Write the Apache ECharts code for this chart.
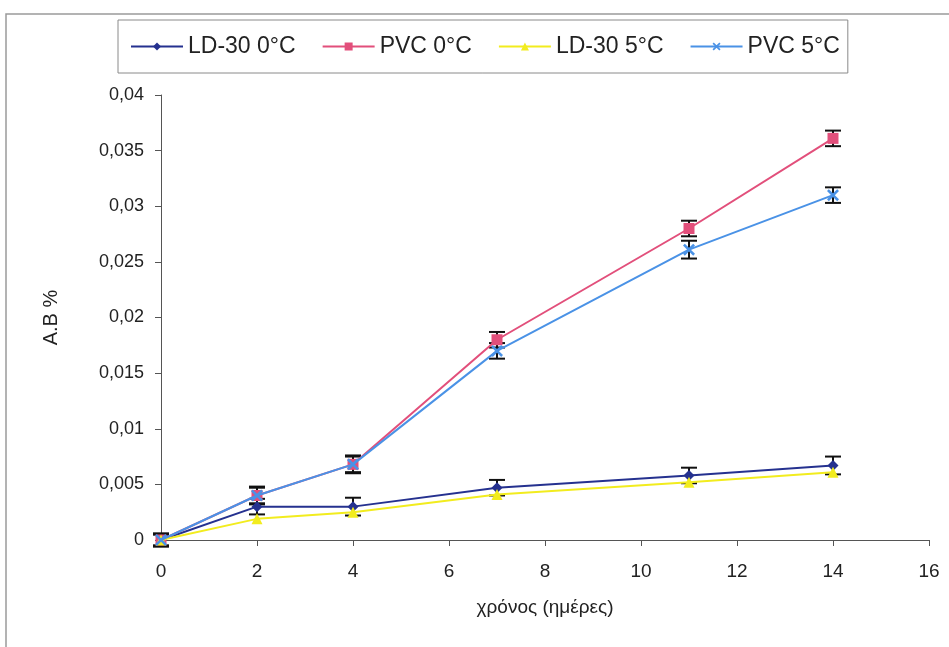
<!DOCTYPE html>
<html><head><meta charset="utf-8">
<script src="https://cdn.jsdelivr.net/npm/echarts@6/dist/echarts.min.js"></script>
<style>html,body{margin:0;padding:0;background:#fff}#c{width:949px;height:647px}</style>
</head><body><div id="c"></div>
<script>
const days = [0, 2, 4, 7, 11, 14];
const seriesNames = ['LD-30 0°C', 'PVC 0°C', 'LD-30 5°C', 'PVC 5°C'];
const ld30_0 = [0, 0.0030, 0.0030, 0.0047, 0.0058, 0.0067];
const pvc_0 = [0, 0.0040, 0.0068, 0.0180, 0.0280, 0.0361];
const ld30_5 = [0, 0.0019, 0.0025, 0.0041, 0.0052, 0.0061];
const pvc_5 = [0, 0.0040, 0.0068, 0.0170, 0.0261, 0.0310];
const err_ld30_0 = [0.0006, 0.0007, 0.0008, 0.0007, 0.0007, 0.0008];
const err_pvc_0 = [0.0005, 0.0008, 0.0008, 0.0007, 0.0007, 0.0007];
const err_pvc_5 = [0.0005, 0.0007, 0.0007, 0.0007, 0.0008, 0.0007];
const yTicks = ['0', '0,005', '0,01', '0,015', '0,02', '0,025', '0,03', '0,035', '0,04'];

const colors = ['#25318f', '#e24f7b', '#f2ec1e', '#4a92e6'];
const xPath = 'path://M0,1.5 L1.5,0 L5,3.5 L8.5,0 L10,1.5 L6.5,5 L10,8.5 L8.5,10 L5,6.5 L1.5,10 L0,8.5 L3.5,5 Z';
const symbols = ['diamond', 'rect', 'triangle', xPath];
const symSizes = [11, 11, 11, 12];
const vals = [ld30_0, pvc_0, ld30_5, pvc_5];

function pairs(v){ return days.map((d,i)=>[d, v[i]]); }
function errSeries(v, e, z){
  return {
    type: 'custom', z: z, silent: true,
    data: days.map((d,i)=>[d, v[i]-e[i], v[i]+e[i]]),
    renderItem: function(params, api){
      const x = api.value(0);
      const lo = api.coord([x, api.value(1)]);
      const hi = api.coord([x, api.value(2)]);
      const w = 8;
      const st = {stroke:'#111', lineWidth:2};
      return {type:'group', children:[
        {type:'line', shape:{x1:lo[0], y1:lo[1], x2:hi[0], y2:hi[1]}, style:st},
        {type:'line', shape:{x1:lo[0]-w, y1:lo[1], x2:lo[0]+w, y2:lo[1]}, style:st},
        {type:'line', shape:{x1:hi[0]-w, y1:hi[1], x2:hi[0]+w, y2:hi[1]}, style:st}
      ]};
    }
  };
}

const lineSeries = seriesNames.map((n,k)=>({
  name: n, type: 'line', data: pairs(vals[k]),
  symbol: symbols[k], symbolSize: symSizes[k], showSymbol: true,
  lineStyle: {color: colors[k], width: 2},
  itemStyle: {color: colors[k]},
  z: 5 + k
}));

const chart = echarts.init(document.getElementById('c'), null, {renderer:'canvas'});
chart.setOption({
  animation: false,
  backgroundColor: '#fff',
  textStyle: {fontFamily: 'Liberation Sans, Arial, sans-serif'},
  graphic: [
    {type:'rect', shape:{x:6, y:14, width:960, height:700}, style:{fill:'none', stroke:'#9a9a9a', lineWidth:1.5}, z:-10}
  ],
  legend: {
    data: seriesNames,
    left: 118, top: 20,
    width: 760,
    padding: [15, 8, 15, 12],
    borderColor: '#8a8a8a', borderWidth: 1,
    itemWidth: 52, itemHeight: 10, itemGap: 26,
    textStyle: {fontSize: 23, color: '#222', fontFamily: 'Liberation Sans, Arial, sans-serif'}
  },
  grid: {left: 161, right: 20, top: 95, bottom: 107, containLabel: false},
  xAxis: {
    type: 'value', min: 0, max: 16, interval: 2,
    name: 'χρόνος (ημέρες)', nameLocation: 'middle', nameGap: 58,
    nameTextStyle: {fontSize: 19, color: '#222'},
    axisLine: {lineStyle: {color: '#555', width: 1}},
    axisTick: {show: true, length: 6, lineStyle:{color:'#555'}},
    axisLabel: {fontSize: 19, color: '#222', margin: 22},
    splitLine: {show: false}
  },
  yAxis: {
    type: 'value', min: 0, max: 0.04, interval: 0.005,
    name: 'A.B %', nameLocation: 'middle', nameGap: 100, nameRotate: 90,
    nameTextStyle: {fontSize: 20, color: '#222'},
    axisLine: {show: true, lineStyle: {color: '#555', width: 1}},
    axisTick: {show: true, length: 6, lineStyle:{color:'#555'}},
    axisLabel: {fontSize: 18, color: '#222', margin: 17,
      formatter: function(v){ const i = Math.round(v/0.005); return yTicks[i]; }},
    splitLine: {show: false}
  },
  series: [
    errSeries(ld30_0, err_ld30_0, 3),
    errSeries(pvc_0, err_pvc_0, 3),
    errSeries(pvc_5, err_pvc_5, 3)
  ].concat(lineSeries)
});
</script></body></html>
